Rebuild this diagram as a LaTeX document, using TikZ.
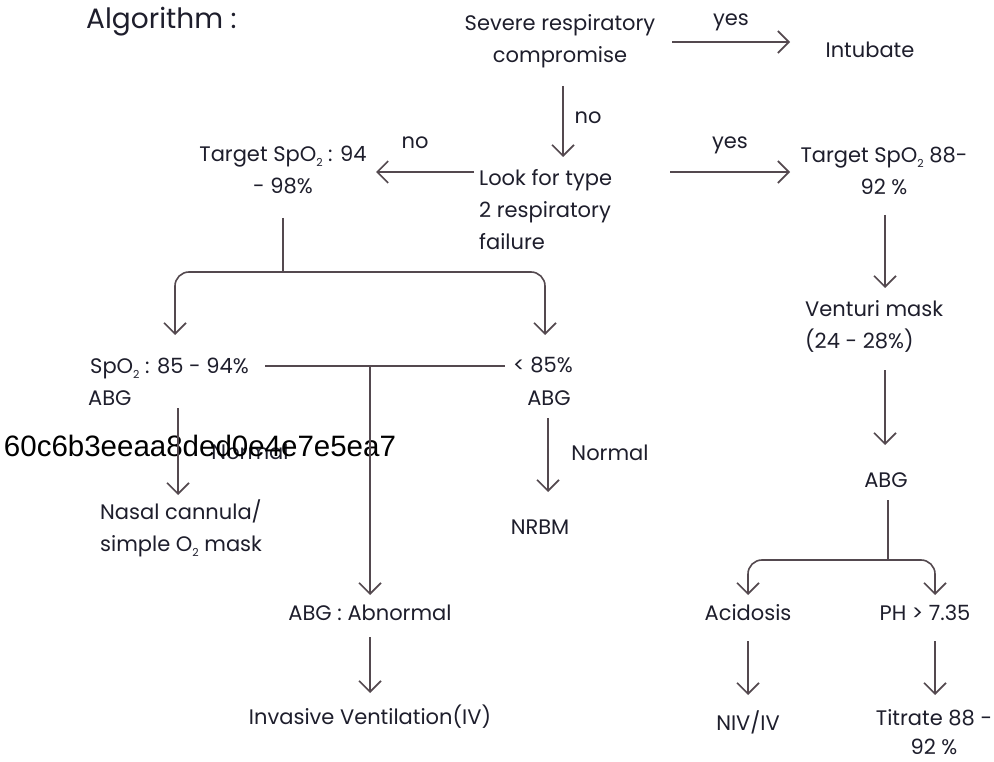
\documentclass[tikz,border=0pt]{standalone}
\usepackage{fontspec}
\setmainfont{Poppins}
\newfontfamily\tagfont{Liberation Sans}
\usetikzlibrary{arrows.meta}
\definecolor{ink}{HTML}{1E1E2C}
\definecolor{pen}{HTML}{54494F}
\newcommand\subtwo{\raisebox{-0.45ex}{\fontsize{11}{11}\selectfont 2}}
\begin{document}
\begin{tikzpicture}[x=1pt,y=-1pt,
  txt/.style={text=ink,font=\fontsize{21}{32}\selectfont,inner sep=0pt},
  lbl/.style={txt},
  wire/.style={draw=pen,line width=1.6pt},
  arr/.style={wire,-{Straight Barb[length=11pt,width=22pt,line width=1.6pt]}},
  fork/.style={arr,rounded corners=14pt}]
\fill[white] (0,0) rectangle (994,762);
\useasboundingbox (0,0) rectangle (994,762);

% title
\node[txt,anchor=west,font=\fontsize{28}{32}\selectfont] (alg) at (86,22) {Algorithm :};

% top decision
\node[txt,align=center] (sev) at (560,41) {Severe respiratory\\compromise};
\node[txt] (intub) at (870,50) {Intubate};
\node[lbl] (yes1) at (731,22) {yes};
\coordinate (s1) at (672,42);
\coordinate (e1) at (790,42);
\draw[arr] (s1) -- (e1);

\node[lbl] (no1) at (588,118) {no};
\coordinate (s2) at (563,86);
\coordinate (e2) at (563,157);
\draw[arr] (s2) -- (e2);

% type 2 failure check
\node[txt,align=left,anchor=north west] (look) at (479,169) {Look for type\\2 respiratory\\failure};
\node[txt,align=center] (tgt1) at (283,170) {Target SpO\subtwo\ : 94\\- 98\%};
\node[txt,align=center] (tgt2) at (884,171) {Target SpO\subtwo\ 88-\\92 \%};
\node[lbl] (no2) at (415,143) {no};
\node[lbl] (yes2) at (730,145) {yes};
\coordinate (s3) at (474,172);
\coordinate (e3) at (376,172);
\draw[arr] (s3) -- (e3);
\coordinate (s4) at (670,172);
\coordinate (e4) at (790,172);
\draw[arr] (s4) -- (e4);

% right branch
\node[txt,align=left,anchor=west] (vent) at (805,326) {Venturi mask\\(24 - 28\%)};
\node[txt] (abg3) at (886,480) {ABG};
\coordinate (s5) at (885,215);
\coordinate (e5) at (885,288);
\draw[arr] (s5) -- (e5);
\coordinate (s6) at (885,370);
\coordinate (e6) at (885,445);
\draw[arr] (s6) -- (e6);

\node[txt] (acid) at (748,613) {Acidosis};
\node[txt] (ph) at (925,613) {PH > 7.35};
\coordinate (j3) at (888,560);
\draw[wire] (888,500) -- (j3);
\draw[fork] (j3) -| (748,595);
\draw[fork] (j3) -| (935,595);

\node[txt] (niv) at (748,722) {NIV/IV};
\node[txt,align=center,font=\fontsize{21}{29}\selectfont] (titr) at (934,732) {Titrate 88 -\\92 \%};
\coordinate (s7) at (748,641);
\coordinate (e7) at (748,695);
\draw[arr] (s7) -- (e7);
\coordinate (s8) at (935,641);
\coordinate (e8) at (935,695);
\draw[arr] (s8) -- (e8);

% left branch
\coordinate (j1) at (283,272);
\draw[wire] (283,218) -- (j1);
\draw[fork] (j1) -| (175,335);
\draw[fork] (j1) -| (545,335);

\node[txt,anchor=west] (sp85) at (90,368) {SpO\subtwo\ : 85 - 94\%};
\node[txt,anchor=west] (abg1) at (88,398) {ABG};
\node[txt] (lt85) at (543,365) {< 85\%};
\node[txt] (abg2) at (549,398) {ABG};

\coordinate (h1) at (265,366);
\coordinate (h2) at (505,366);
\coordinate (j2) at (370,366);
\draw[wire] (h1) -- (h2);

\node[txt] (norm1) at (250,452) {Normal};
\node[text=black,font=\tagfont\fontsize{29.5}{30}\selectfont,inner sep=0pt] (tag) at (200,446) {60c6b3eeaa8ded0e4e7e5ea7};

\coordinate (s9) at (178,408);
\coordinate (e9) at (178,495);
\draw[arr] (s9) -- (e9);
\node[txt,align=left,anchor=west] (nasal) at (100,528) {Nasal cannula/\\simple O\subtwo\ mask};

\node[txt] (norm2) at (610,453) {Normal};
\coordinate (s10) at (548,418);
\coordinate (e10) at (548,492);
\draw[arr] (s10) -- (e10);
\node[txt] (nrbm) at (540,527) {NRBM};

\coordinate (e11) at (370,595);
\draw[arr] (j2) -- (e11);
\node[txt] (abn) at (370,613) {ABG : Abnormal};
\coordinate (s12) at (370,637);
\coordinate (e12) at (370,693);
\draw[arr] (s12) -- (e12);
\node[txt] (inv) at (370,717) {Invasive Ventilation(IV)};
\end{tikzpicture}
\end{document}
